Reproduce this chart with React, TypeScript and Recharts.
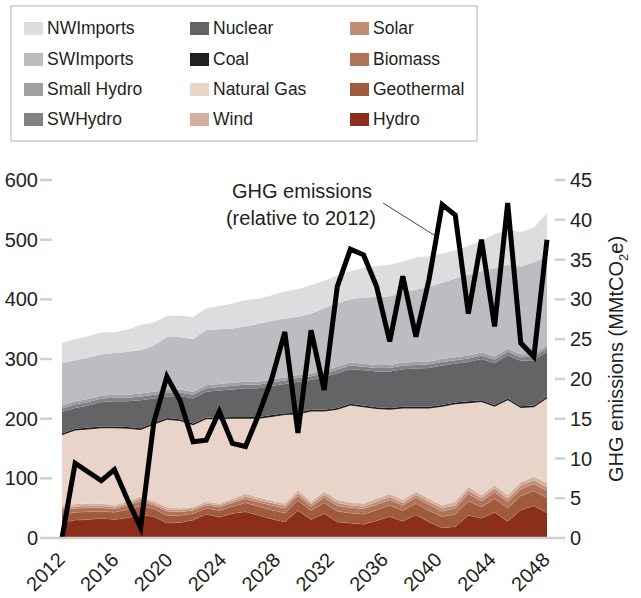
import React from "react";
import { ComposedChart, Area, Line, XAxis, YAxis } from "recharts";

const YEARS = [
  2012, 2013, 2014, 2015, 2016, 2017, 2018, 2019, 2020, 2021,
  2022, 2023, 2024, 2025, 2026, 2027, 2028, 2029, 2030, 2031,
  2032, 2033, 2034, 2035, 2036, 2037, 2038, 2039, 2040, 2041,
  2042, 2043, 2044, 2045, 2046, 2047, 2048, 2049,
];

// generation by source, stacked bottom (Hydro) to top (NWImports)
const HYDRO = [26, 30, 31, 33, 31, 34, 39, 36, 25, 26, 30, 40, 35, 41, 44, 38, 32, 27, 46, 31, 41, 27, 25, 23, 29, 36, 28, 39, 27, 17, 19, 38, 33, 43, 28, 47, 54, 42];
const GEOTHERMAL = [14, 13, 13, 12, 12, 14, 15, 13, 13, 12, 11, 10, 11, 12, 15, 15, 15, 15, 17, 15, 18, 18, 17, 17, 18, 19, 18, 19, 19, 19, 21, 24, 19, 23, 22, 24, 25, 25];
const BIOMASS = [7, 7, 7, 6, 6, 7, 8, 6, 7, 6, 5, 5, 6, 6, 7, 7, 8, 8, 8, 7, 9, 9, 9, 9, 9, 9, 9, 10, 10, 9, 10, 12, 10, 11, 11, 11, 12, 12];
const SOLAR = [4, 3, 3, 3, 3, 3, 4, 3, 3, 3, 3, 3, 3, 3, 4, 4, 4, 4, 4, 4, 5, 5, 4, 4, 5, 5, 4, 5, 5, 5, 5, 6, 5, 6, 5, 6, 6, 6];
const WIND = [4, 4, 4, 4, 3, 4, 4, 4, 4, 3, 3, 3, 3, 4, 4, 4, 4, 4, 5, 4, 5, 5, 5, 5, 5, 5, 5, 5, 5, 5, 6, 6, 5, 6, 6, 6, 6, 7];
const NATURAL_GAS = [117, 123, 124, 126, 129, 121, 111, 128, 146, 146, 137, 138, 141, 134, 126, 132, 140, 148, 127, 151, 134, 151, 162, 161, 150, 141, 153, 139, 151, 165, 163, 140, 156, 131, 159, 124, 116, 142];
const COAL = [3, 3, 3, 3, 3, 3, 3, 3, 3, 3, 3, 3, 3, 3, 3, 3, 3, 3, 3, 3, 3, 3, 3, 3, 3, 3, 3, 3, 3, 3, 3, 3, 3, 3, 3, 3, 3, 3];
const NUCLEAR = [36, 35, 37, 41, 42, 43, 47, 41, 36, 39, 42, 43, 45, 46, 48, 48, 49, 49, 52, 50, 55, 58, 58, 59, 60, 61, 63, 64, 65, 66, 65, 66, 69, 70, 72, 76, 76, 75];
const SW_HYDRO = [6, 6, 6, 6, 6, 6, 6, 6, 6, 6, 6, 6, 6, 6, 6, 6, 6, 6, 6, 6, 6, 6, 6, 6, 6, 6, 6, 6, 6, 6, 6, 6, 6, 6, 6, 6, 6, 6];
const SMALL_HYDRO = [5, 5, 5, 5, 5, 5, 5, 5, 5, 5, 5, 5, 5, 5, 5, 5, 5, 5, 5, 5, 5, 5, 5, 5, 5, 5, 5, 5, 5, 5, 5, 5, 5, 5, 5, 5, 5, 5];
const SW_IMPORTS = [71, 69, 69, 69, 70, 72, 73, 77, 89, 88, 88, 93, 92, 91, 93, 97, 98, 99, 98, 100, 104, 107, 106, 111, 114, 115, 118, 121, 125, 128, 132, 135, 136, 148, 141, 147, 153, 148];
const NW_IMPORTS = [34, 35, 36, 37, 35, 37, 42, 39, 35, 36, 37, 36, 39, 42, 44, 42, 43, 45, 46, 48, 46, 46, 47, 50, 52, 53, 51, 54, 51, 49, 47, 49, 51, 57, 59, 58, 58, 74];

// GHG emissions relative to 2012, MMtCO2e (right axis)
const GHG = [0, 9.4, 8.3, 7.2, 8.6, 4.8, 1.3, 14.5, 20.3, 17.3, 12.1, 12.3, 15.9, 11.9, 11.5, 15.5, 20, 25.9, 13.2, 26.1, 18.6, 31.6, 36.3, 35.6, 31.6, 24.7, 32.9, 25.3, 32.5, 41.9, 40.6, 28.2, 37.5, 26.6, 42.1, 24.5, 22.8, 37.5];

const X_TICK_LABELS = ["2012", "2016", "2020", "2024", "2028", "2032", "2036", "2040", "2044", "2048"];
const LEFT_TICKS = [0, 100, 200, 300, 400, 500, 600];
const RIGHT_TICKS = [0, 5, 10, 15, 20, 25, 30, 35, 40, 45];

const SERIES = [
  { key: "Hydro", values: HYDRO, color: "#8b2e1b" },
  { key: "Geothermal", values: GEOTHERMAL, color: "#a05a3c" },
  { key: "Biomass", values: BIOMASS, color: "#b07258" },
  { key: "Solar", values: SOLAR, color: "#c08c74" },
  { key: "Wind", values: WIND, color: "#d3b09e" },
  { key: "Natural Gas", values: NATURAL_GAS, color: "#e8d4c9" },
  { key: "Coal", values: COAL, color: "#231f20" },
  { key: "Nuclear", values: NUCLEAR, color: "#636466" },
  { key: "SWHydro", values: SW_HYDRO, color: "#808285" },
  { key: "Small Hydro", values: SMALL_HYDRO, color: "#a0a1a4" },
  { key: "SWImports", values: SW_IMPORTS, color: "#bcbdc0" },
  { key: "NWImports", values: NW_IMPORTS, color: "#dcdddf" },
];

const BROWNS = ["Hydro", "Geothermal", "Biomass", "Solar", "Wind"];

const LEGEND_COLUMNS = [
  ["NWImports", "SWImports", "Small Hydro", "SWHydro"],
  ["Nuclear", "Coal", "Natural Gas", "Wind"],
  ["Solar", "Biomass", "Geothermal", "Hydro"],
];

const data = YEARS.map((year, i) => {
  const row: Record<string, number> = { year, ghg: GHG[i] };
  SERIES.forEach((s) => (row[s.key] = s.values[i]));
  return row;
});

const X_MIN = YEARS[0];
const X_MAX = YEARS[YEARS.length - 1];
const X_TICKS = X_TICK_LABELS.map((_, k) => X_MIN + (k * (X_MAX - X_MIN)) / (X_TICK_LABELS.length - 1));

const FONT = "'Liberation Sans', Arial, Helvetica, sans-serif";
const INK = "#231f20";
const TICK_GRAY = "#cfcfcf";

const YearTick = (props: any) => {
  const { x, y, index } = props;
  const ax = x + 4;
  const ay = y + 23;
  return (
    <text x={ax} y={ay} transform={`rotate(-45 ${ax} ${ay})`} textAnchor="end" fontSize={20} fontFamily={FONT} fill={INK}>
      {X_TICK_LABELS[index]}
    </text>
  );
};

const RightAxisLabel = () => (
  <text x={623} y={359} transform="rotate(-90 623 359)" textAnchor="middle" fontSize={20} fontFamily={FONT} fill={INK}>
    GHG emissions (MMtCO
    <tspan fontSize={13} dy={5}>2</tspan>
    <tspan dy={-5}>e)</tspan>
  </text>
);

function LegendBox() {
  const colorOf = (name: string) => SERIES.find((s) => s.key === name)!.color;
  const colX = [12, 178, 338];
  const rowY = [21, 52, 82, 112];
  return (
    <div
      style={{
        position: "absolute",
        left: 10,
        top: 5,
        width: 468,
        height: 137,
        boxSizing: "border-box",
        border: "2px solid #d8d8d8",
        fontFamily: FONT,
        fontSize: 17.5,
        color: INK,
      }}
    >
      {LEGEND_COLUMNS.map((col, c) =>
        col.map((name, r) => (
          <div
            key={name}
            style={{
              position: "absolute",
              left: colX[c],
              top: rowY[r] - 11,
              height: 22,
              display: "flex",
              alignItems: "center",
              whiteSpace: "nowrap",
            }}
          >
            <span style={{ width: 19, height: 13, background: colorOf(name), marginRight: 4, display: "inline-block" }} />
            <span>{name}</span>
          </div>
        ))
      )}
    </div>
  );
}

export default function App() {
  return (
    <div style={{ position: "absolute", left: 0, top: 0, width: 641, height: 598, background: "#fff" }}>
      <LegendBox />
      <ComposedChart width={641} height={598} data={data} margin={{ top: 180, right: 0, bottom: 0, left: 0 }}>
        <XAxis
          dataKey="year"
          type="number"
          domain={[X_MIN, X_MAX]}
          ticks={X_TICKS}
          interval={0}
          padding={{ left: 10, right: 8 }}
          height={60}
          tickSize={0}
          tickMargin={0}
          axisLine={{ stroke: TICK_GRAY, strokeWidth: 2.5 }}
          tick={<YearTick />}
        />
        <YAxis
          yAxisId="left"
          domain={[0, 600]}
          ticks={LEFT_TICKS}
          interval={0}
          width={52}
          axisLine={false}
          tickSize={12}
          tickMargin={2}
          tickLine={{ stroke: TICK_GRAY, strokeWidth: 2.5 }}
          tick={{ fontSize: 20, fontFamily: FONT, fill: INK }}
        />
        <YAxis
          yAxisId="right"
          orientation="right"
          domain={[0, 45]}
          ticks={RIGHT_TICKS}
          interval={0}
          width={86}
          axisLine={false}
          tickSize={10}
          tickMargin={5}
          tickLine={{ stroke: TICK_GRAY, strokeWidth: 2.5 }}
          tick={{ fontSize: 20, fontFamily: FONT, fill: INK }}
          label={<RightAxisLabel />}
        />
        {SERIES.map((s) => (
          <Area
            key={s.key}
            yAxisId="left"
            type="linear"
            dataKey={s.key}
            stackId="gen"
            fill={s.color}
            fillOpacity={1}
            stroke={BROWNS.includes(s.key) ? "#ffffff" : "none"}
            strokeOpacity={0.3}
            strokeWidth={0.8}
            isAnimationActive={false}
          />
        ))}
        <Line
          yAxisId="right"
          type="linear"
          dataKey="ghg"
          stroke="#000"
          strokeWidth={5}
          dot={false}
          activeDot={false}
          isAnimationActive={false}
        />
      </ComposedChart>
      <svg width={641} height={598} style={{ position: "absolute", left: 0, top: 0, pointerEvents: "none" }}>
        <line x1={383} y1={203} x2={434} y2={235} stroke="#444" strokeWidth={1} />
        <text x={302} y={198} textAnchor="middle" fontSize={20} fontFamily={FONT} fill={INK}>
          GHG emissions
        </text>
        <text x={301} y={225} textAnchor="middle" fontSize={20} fontFamily={FONT} fill={INK}>
          (relative to 2012)
        </text>
      </svg>
    </div>
  );
}
